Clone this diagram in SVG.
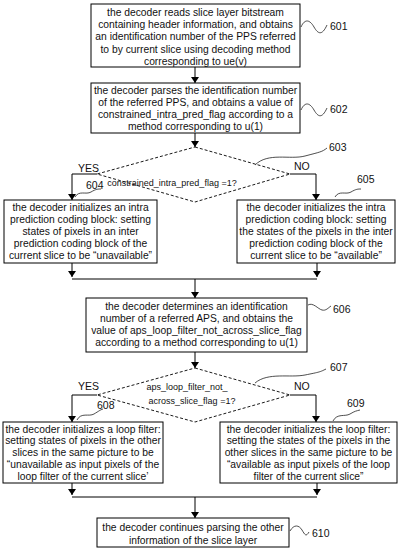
<svg xmlns="http://www.w3.org/2000/svg" width="400" height="552" viewBox="0 0 400 552">
<defs>
<marker id="arr" viewBox="0 0 6 8" refX="6" refY="4" markerWidth="6" markerHeight="8" markerUnits="userSpaceOnUse" orient="auto">
<path d="M0,0 L6,4 L0,8 Z" fill="#000"/>
</marker>
<style>
.box{fill:#fff;stroke:#000;stroke-width:1}
.dia{fill:#fff;stroke:#000;stroke-width:0.9;stroke-dasharray:3,2}
.t{font-family:"Liberation Sans",Arial,sans-serif;font-size:10.3px;fill:#111;text-anchor:middle}
.dt{font-family:"Liberation Sans",Arial,sans-serif;font-size:9px;fill:#111;text-anchor:middle}
.lbl{font-family:"Liberation Sans",Arial,sans-serif;font-size:10.5px;fill:#111}
.c{fill:none;stroke:#000;stroke-width:1}
.sq{fill:none;stroke:#222;stroke-width:0.8}
</style>
</defs>
<rect width="400" height="552" fill="#fff"/>

<g id="connectors">
<path class="c" d="M195,67 V83" marker-end="url(#arr)"/>
<path class="c" d="M195,133 V147" marker-end="url(#arr)"/>
<path class="c" d="M97,174 H72 V200" marker-end="url(#arr)"/>
<path class="c" d="M290,174 H316 V200" marker-end="url(#arr)"/>
<path class="c" d="M72,263 V277" marker-end="url(#arr)"/>
<path class="c" d="M317,263 V277" marker-end="url(#arr)"/>
<path class="c" d="M72,279 H317"/>
<path class="c" d="M195,279 V298" marker-end="url(#arr)"/>
<path class="c" d="M195,352 V368" marker-end="url(#arr)"/>
<path class="c" d="M97,395 H72 V422" marker-end="url(#arr)"/>
<path class="c" d="M290,395 H316 V422" marker-end="url(#arr)"/>
<path class="c" d="M72,483 V495" marker-end="url(#arr)"/>
<path class="c" d="M317,483 V495" marker-end="url(#arr)"/>
<path class="c" d="M72,497 H317"/>
<path class="c" d="M195,497 V518" marker-end="url(#arr)"/>
<text class="lbl" x="78" y="171.5">YES</text>
<text class="lbl" x="294" y="169.5">NO</text>
<text class="lbl" x="78" y="390">YES</text>
<text class="lbl" x="294" y="389.5">NO</text>
</g>

<g id="n601">
<rect class="box" x="91" y="4" width="209" height="63"/>
<text class="t" x="195.5" y="16">the decoder reads slice layer bitstream</text>
<text class="t" x="195.5" y="28.2">containing header information, and obtains</text>
<text class="t" x="195.5" y="40.4">an identification number of the PPS referred</text>
<text class="t" x="195.5" y="52.6">to by current slice using decoding method</text>
<text class="t" x="195.5" y="64.8">corresponding to ue(v)</text>
<path class="sq" d="M301,27 C305,18 310,20 314,27 S322,36 327,25"/>
<text class="lbl" x="330" y="30">601</text>
</g>

<g id="n602">
<rect class="box" x="91" y="83" width="209" height="50"/>
<text class="t" x="195.5" y="93.5">the decoder parses the identification number</text>
<text class="t" x="195.5" y="105.5">of the referred PPS, and obtains a value of</text>
<text class="t" x="195.5" y="117.5">constrained_intra_pred_flag according to a</text>
<text class="t" x="195.5" y="129.5">method corresponding to u(1)</text>
<path class="sq" d="M301,110 C305,101 310,103 314,110 S322,119 327,108"/>
<text class="lbl" x="330" y="113">602</text>
</g>

<g id="n603">
<polygon class="dia" points="195,147 290,174 195,202 97,174"/>
<text class="dt" x="172" y="186">constrained_intra_pred_flag =1?</text>
<path class="sq" d="M255,165 C268,152 290,160 305,156 S322,152 327,148"/>
<text class="lbl" x="329" y="151">603</text>
</g>

<g id="n604">
<rect class="box" x="4" y="200" width="153" height="63"/>
<text class="t" x="80.5" y="210.5">the decoder initializes an intra</text>
<text class="t" x="80.5" y="222.5">prediction coding block: setting</text>
<text class="t" x="80.5" y="234.5">states of pixels in an inter</text>
<text class="t" x="80.5" y="246.5">prediction coding block of the</text>
<text class="t" x="80.5" y="258.5">current slice to be “unavailable”</text>
<path class="sq" d="M75,197 C79,190 86,195 91,192 S98,189 101,189"/>
<text class="lbl" x="86" y="188.5">604</text>
</g>

<g id="n605">
<rect class="box" x="237" y="200" width="158" height="63"/>
<text class="t" x="316" y="210.5">the decoder initializes the intra</text>
<text class="t" x="316" y="222.5">prediction coding block: setting</text>
<text class="t" x="316" y="234.5">the states of the pixels in the inter</text>
<text class="t" x="316" y="246.5">prediction coding block of the</text>
<text class="t" x="316" y="258.5">current slice to be “available”</text>
<path class="sq" d="M335,197 C339,190 346,195 351,192 S358,189 361,189"/>
<text class="lbl" x="357" y="183">605</text>
</g>

<g id="n606">
<rect class="box" x="86" y="298" width="221" height="54"/>
<text class="t" x="196.5" y="310">the decoder determines an identification</text>
<text class="t" x="196.5" y="322">number of a referred APS, and obtains the</text>
<text class="t" x="196.5" y="334">value of aps_loop_filter_not_across_slice_flag</text>
<text class="t" x="196.5" y="346">according to a method corresponding to u(1)</text>
<path class="sq" d="M308,305 C313,302 318,309 322,310 S328,308 331,306"/>
<text class="lbl" x="333" y="312.5">606</text>
</g>

<g id="n607">
<polygon class="dia" points="195,368 290,395 195,422 97,395"/>
<text class="dt" x="187" y="390">aps_loop_filter_not_</text>
<text class="dt" x="192" y="403.5">across_slice_flag =1?</text>
<path class="sq" d="M255,383 C268,372 290,378 305,375 S320,372 326,369"/>
<text class="lbl" x="330" y="370.5">607</text>
</g>

<g id="n608">
<rect class="box" x="3" y="422" width="160" height="61"/>
<text class="t" x="83" y="432.5">the decoder initializes a loop filter:</text>
<text class="t" x="83" y="444.3">setting states of pixels in the other</text>
<text class="t" x="83" y="456">slices in the same picture to be</text>
<text class="t" x="83" y="467.8">“unavailable as input pixels of the</text>
<text class="t" x="83" y="479.5">loop filter of the current slice’</text>
<path class="sq" d="M77,420 C81,412 89,417 94,414 S100,410 103,409"/>
<text class="lbl" x="97" y="408.5">608</text>
</g>

<g id="n609">
<rect class="box" x="220" y="422" width="177" height="61"/>
<text class="t" x="308.5" y="432.5">the decoder initializes the loop filter:</text>
<text class="t" x="308.5" y="444.3">setting the states of the pixels in the</text>
<text class="t" x="308.5" y="456">other slices in the same picture to be</text>
<text class="t" x="308.5" y="467.8">“available as input pixels of the loop</text>
<text class="t" x="308.5" y="479.5">filter of the current slice”</text>
<path class="sq" d="M333,421 C337,413 345,417 350,414 S356,411 360,410"/>
<text class="lbl" x="347" y="406.5">609</text>
</g>

<g id="n610">
<rect class="box" x="97" y="518" width="192" height="29"/>
<text class="t" x="193" y="530.5">the decoder continues parsing the other</text>
<text class="t" x="193" y="543.5">information of the slice layer</text>
<path class="sq" d="M290,531 C294,524 299,525 302,530 S306,537 309,532"/>
<text class="lbl" x="312" y="536.5">610</text>
</g>
</svg>
